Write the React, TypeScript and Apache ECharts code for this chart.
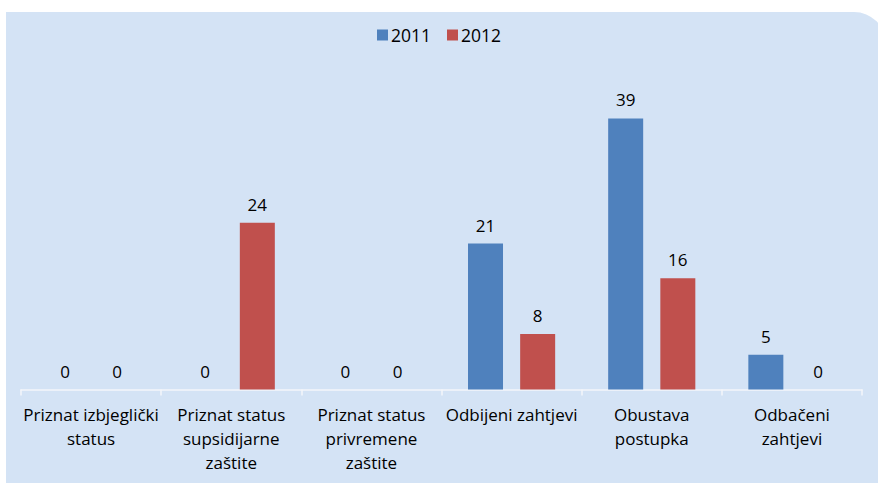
import React, { useEffect, useRef } from "react";
import * as echarts from "echarts";

const categories = [
  "Priznat izbjeglički\nstatus",
  "Priznat status\nsupsidijarne\nzaštite",
  "Priznat status\nprivremene\nzaštite",
  "Odbijeni zahtjevi",
  "Obustava\npostupka",
  "Odbačeni\nzahtjevi",
];
const values2011 = [0, 0, 0, 21, 39, 5];
const values2012 = [0, 24, 0, 8, 16, 0];
const seriesNames = ["2011", "2012"];

const FONT = "Open Sans";
const FS = 17;

export default function App() {
  const ref = useRef<HTMLDivElement>(null);
  useEffect(() => {
    const chart = echarts.init(ref.current!, null, { renderer: "svg" });
    const labelStyle = {
      show: true,
      position: "top" as const,
      distance: 10,
      fontFamily: FONT,
      fontSize: FS,
      color: "#000",
    };
    chart.setOption({
      animation: false,
      graphic: [
        {
          type: "rect",
          z: -10,
          silent: true,
          shape: { x: 6, y: 12, width: 880, height: 480, r: [0, 32, 0, 0] },
          style: { fill: "#D4E3F5" },
        },
      ],
      legend: {
        top: 21,
        left: "center",
        itemWidth: 11,
        itemHeight: 11,
        itemGap: 16,
        icon: "rect",
        textStyle: { fontFamily: FONT, fontSize: 17.5, color: "#000", padding: [0, 0, 0, -2] },
        data: seriesNames,
      },
      grid: { left: 21, right: 16, top: 76.75, bottom: 93.5 },
      xAxis: {
        type: "category",
        data: categories,
        axisLine: { lineStyle: { color: "#F4F6FA", width: 1.5 } },
        axisTick: { show: true, inside: false, length: 6, lineStyle: { color: "#F4F6FA", width: 1.5 } },
        axisLabel: {
          interval: 0,
          margin: 13,
          fontFamily: FONT,
          fontSize: FS,
          lineHeight: 24,
          color: "#000",
          align: "center",
        },
      },
      yAxis: {
        type: "value",
        min: 0,
        max: 45,
        show: false,
        splitLine: { show: false },
      },
      series: [
        {
          name: seriesNames[0],
          type: "bar",
          data: values2011,
          barWidth: 35,
          barGap: "49%",
          itemStyle: { color: "#4F81BD" },
          label: labelStyle,
        },
        {
          name: seriesNames[1],
          type: "bar",
          data: values2012,
          barWidth: 35,
          itemStyle: { color: "#C0504D" },
          label: labelStyle,
        },
      ],
    });
    return () => chart.dispose();
  }, []);
  return (
    <div
      ref={ref}
      style={{ position: "fixed", left: 0, top: 0, width: 878, height: 483, background: "#fff" }}
    />
  );
}
